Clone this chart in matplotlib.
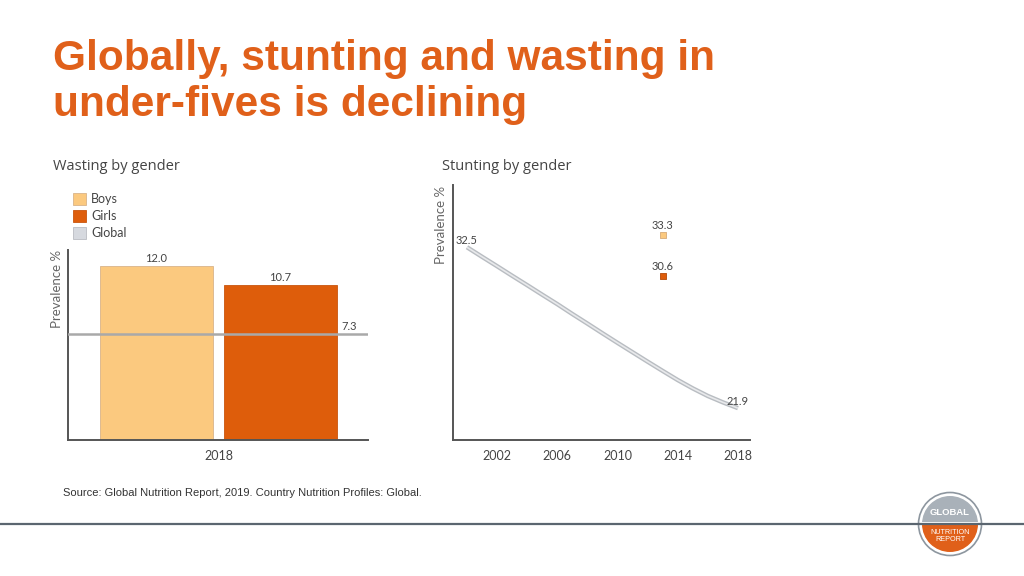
import numpy as np
import matplotlib
matplotlib.use("Agg")
import matplotlib.pyplot as plt
from matplotlib.patches import Circle, Wedge, Rectangle

# wasting by gender, 2018
wasting_groups = ["Boys", "Girls"]
wasting_values = [12.0, 10.7]
wasting_global = 7.3
wasting_year = "2018"

# stunting, global trend + 2013 gender points
stunting_years = [2000, 2001, 2002, 2003, 2004, 2005, 2006, 2007, 2008, 2009,
                  2010, 2011, 2012, 2013, 2014, 2015, 2016, 2017, 2018]
stunting_global = [32.5, 31.87, 31.25, 30.62, 30.0, 29.37, 28.75, 28.1, 27.47, 26.83,
                   26.2, 25.58, 24.96, 24.35, 23.75, 23.2, 22.7, 22.28, 21.9]
stunting_gender_year = 2013
stunting_boys = 33.3
stunting_girls = 30.6
stunting_ticks = [2002, 2006, 2010, 2014, 2018]

ORANGE = "#e0601a"
BOYS = "#fbc97f"
GIRLS = "#de5d0b"
GREY_LINE = "#a9a9a9"
AXIS = "#555555"
TXT = "#444444"
chart_font = ["Lato", "DejaVu Sans"]

fig = plt.figure(figsize=(10.24, 5.76), dpi=100)
fig.patch.set_facecolor("white")

# title
fig.text(53 / 1024, 1 - 82 / 576, "Globally, stunting and wasting in\nunder-fives is declining",
         fontsize=30.5, fontweight="bold", color=ORANGE, family="Liberation Sans",
         va="center", ha="left", linespacing=1.2)

fig.text(53 / 1024, 1 - 166 / 576, "Wasting by gender", fontsize=10.5, color=TXT,
         family="Open Sans", va="center")
fig.text(442 / 1024, 1 - 166 / 576, "Stunting by gender", fontsize=10.5, color=TXT,
         family="Open Sans", va="center")

# ---- left: wasting bars
ax1 = fig.add_axes([68 / 1024, 136 / 576, 300 / 1024, 190 / 576])
pos = np.arange(len(wasting_groups))
ax1.bar(pos, wasting_values, width=0.91, color=[BOYS, GIRLS],
        edgecolor=["#d9b48a", "#c8550e"], linewidth=0.6, zorder=2)
ax1.axhline(wasting_global, color=GREY_LINE, lw=1.8, zorder=3)
for p, v in zip(pos, wasting_values):
    ax1.text(p, v + 0.15, f"{v:.1f}", ha="center", va="bottom", fontsize=8,
             color=TXT, family=chart_font)
ax1.text(1.55, wasting_global + 0.15, f"{wasting_global:.1f}", ha="center", va="bottom",
         fontsize=8, color=TXT, family=chart_font)
ax1.set_xlim(-0.714, 1.706)
ax1.set_ylim(0, 13.1)
ax1.set_xticks([0.5])
ax1.set_xticklabels([wasting_year], family=chart_font, fontsize=9, color=TXT)
ax1.set_yticks([])
ax1.tick_params(axis="x", length=0, pad=7)
for s in ["top", "right"]:
    ax1.spines[s].set_visible(False)
for s in ["left", "bottom"]:
    ax1.spines[s].set_color(AXIS)
    ax1.spines[s].set_linewidth(1.4)

fig.text(57 / 1024, 1 - 289 / 576, "Prevalence %", rotation=90, fontsize=9.5,
         color="#666666", family=chart_font, ha="center", va="center")

# legend
legend_items = [("Boys", BOYS, "#d9b48a"), ("Girls", GIRLS, "#c8550e"),
                ("Global", "#d6d9df", "#b9bcc2")]
for i, (lab, fc, ec) in enumerate(legend_items):
    y = 1 - (199 + i * 17) / 576
    fig.patches.append(Rectangle((73 / 1024, y - 6 / 576), 13 / 1024, 12 / 576,
                                 transform=fig.transFigure, facecolor=fc,
                                 edgecolor=ec, linewidth=0.6))
    fig.text(91 / 1024, y, lab, fontsize=9, color=TXT, family=chart_font, va="center")

# ---- right: stunting trend
ax2 = fig.add_axes([453 / 1024, 136 / 576, 297 / 1024, 255 / 576])
ax2.plot(stunting_years, stunting_global, color="#b9bdc2", lw=3.2,
         solid_capstyle="butt", solid_joinstyle="round", zorder=2)
ax2.plot(stunting_years, stunting_global, color="#e8e9eb", lw=1.2,
         solid_capstyle="butt", solid_joinstyle="round", zorder=3)
ax2.scatter([stunting_gender_year], [stunting_boys], marker="s", s=18, color=BOYS,
            edgecolor="#d6aa77", linewidth=0.6, zorder=4)
ax2.scatter([stunting_gender_year], [stunting_girls], marker="s", s=18, color=GIRLS,
            edgecolor="#b44a08", linewidth=0.6, zorder=4)
lab_kw = dict(ha="center", va="bottom", fontsize=8, color=TXT, family=chart_font)
ax2.annotate(f"{stunting_global[0]:.1f}", (stunting_years[0], stunting_global[0]),
             xytext=(0, 1), textcoords="offset points", **lab_kw)
ax2.annotate(f"{stunting_global[-1]:.1f}", (stunting_years[-1], stunting_global[-1]),
             xytext=(0, 1), textcoords="offset points", **lab_kw)
ax2.annotate(f"{stunting_boys:.1f}", (stunting_gender_year, stunting_boys),
             xytext=(0, 3), textcoords="offset points", **lab_kw)
ax2.annotate(f"{stunting_girls:.1f}", (stunting_gender_year, stunting_girls),
             xytext=(0, 3), textcoords="offset points", **lab_kw)
ax2.set_xlim(1999.07, 2018.8)
ax2.set_ylim(19.8, 36.6)
ax2.set_xticks(stunting_ticks)
ax2.set_xticklabels([str(t) for t in stunting_ticks], family=chart_font,
                    fontsize=9, color=TXT)
ax2.set_yticks([])
ax2.tick_params(axis="x", length=0, pad=7)
for s in ["top", "right"]:
    ax2.spines[s].set_visible(False)
for s in ["left", "bottom"]:
    ax2.spines[s].set_color(AXIS)
    ax2.spines[s].set_linewidth(1.4)

fig.text(441 / 1024, 1 - 225 / 576, "Prevalence %", rotation=90, fontsize=9.5,
         color="#666666", family=chart_font, ha="center", va="center")

# source
fig.text(63 / 1024, 1 - 493 / 576,
         "Source: Global Nutrition Report, 2019. Country Nutrition Profiles: Global.",
         fontsize=8, color="#333333", family="Liberation Sans", va="center")

# footer rule
fig.add_artist(plt.Line2D([0, 1], [52 / 576, 52 / 576], transform=fig.transFigure,
                          color="#5b6670", lw=1.6))

# logo
lg = fig.add_axes([915 / 1024, 1 - 559 / 576, 70 / 1024, 70 / 576])
lg.set_xlim(-1, 1)
lg.set_ylim(-1, 1)
lg.set_aspect("equal")
lg.axis("off")
lg.add_patch(Circle((0, 0), 0.9, facecolor="white", edgecolor="#8d969f", lw=1.2))
lg.add_patch(Wedge((0, 0), 0.8, 0, 180, facecolor="#a9b1b9", edgecolor="none"))
lg.add_patch(Wedge((0, 0), 0.8, 180, 360, facecolor=ORANGE, edgecolor="none"))
lg.add_patch(Rectangle((-0.8, 0.02), 1.6, 0.05, facecolor="white", edgecolor="none"))
lg.text(0, 0.32, "GLOBAL", ha="center", va="center", color="white", fontsize=6.8,
        fontweight="bold", family="Liberation Sans")
lg.text(0, -0.33, "NUTRITION\nREPORT", ha="center", va="center", color="white",
        fontsize=5.2, family="Liberation Sans", linespacing=1.0)

fig.savefig("out.png", dpi=100, facecolor="white")
